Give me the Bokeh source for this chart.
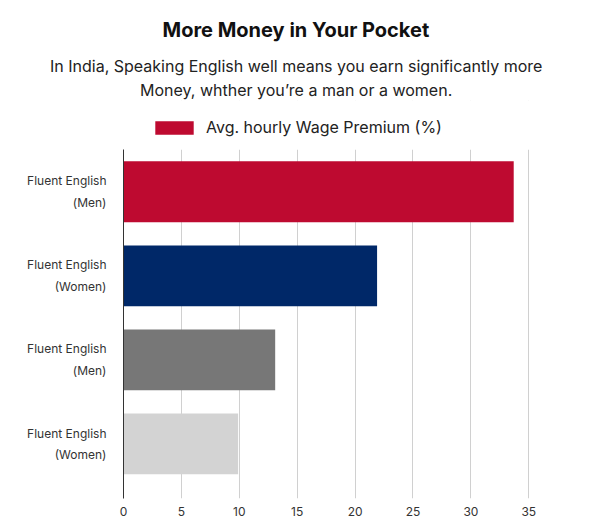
from bokeh.plotting import figure
from bokeh.models import (ColumnDataSource, Range1d, FixedTicker, Title, Legend,
                          LegendItem, BoxAnnotation)
from bokeh.embed import file_html
from bokeh.resources import INLINE

title_text = "More Money in Your Pocket"
subtitle_lines = ["In India, Speaking English well means you earn significantly more",
                  "Money, whther you\u2019re a man or a women."]
categories = ["Fluent English\n(Men)", "Fluent English\n(Women)",
              "Fluent English\n(Men)", "Fluent English\n(Women)"]
values = [33.7, 21.9, 13.1, 9.9]
colors = ["#BE0A30", "#002868", "#777777", "#D3D3D3"]
series_name = "Avg. hourly Wage Premium (%)"
x_ticks = [0, 5, 10, 15, 20, 25, 30, 35]

FONT = "Inter"
W, H = 590, 525
LEFT, TOP, BOTTOM, RIGHT = 123, 100, 27, 38
FRAME_H = H - TOP - BOTTOM
BAND = 84.0                             # pixels per category
Y_TOP = -((191.3 - TOP) / BAND)         # data value at the frame top

positions = list(range(len(categories)))
src = ColumnDataSource(dict(y=positions, value=values, color=colors))

p = figure(width=W, height=H, output_backend="svg", toolbar_location=None,
           x_range=Range1d(0, 37.05), y_range=Range1d(3.65, Y_TOP),
           min_border_left=LEFT, min_border_right=RIGHT, min_border_bottom=BOTTOM,
           min_border_top=TOP)
p.outline_line_color = None
p.background_fill_color = "white"

p.ygrid.visible = False
p.xgrid.ticker = FixedTicker(ticks=x_ticks)
p.xgrid.grid_line_color = "#D0D0D0"
p.xgrid.grid_line_width = 1

# white band above the chart body (legend area), hiding the grid there
p.add_layout(BoxAnnotation(bottom=-0.5, top=Y_TOP - 1, fill_color="white", fill_alpha=1,
                           line_color=None, level="underlay"))

r = p.hbar(y="y", left=0, right="value", height=0.725, fill_color="color",
           line_color=None, source=src)

p.xaxis.ticker = FixedTicker(ticks=x_ticks)
p.xaxis.axis_line_color = None
p.xaxis.major_tick_line_color = None
p.xaxis.minor_tick_line_color = None
p.xaxis.major_label_text_font = FONT
p.xaxis.major_label_text_font_size = "12px"
p.xaxis.major_label_text_color = "#333333"
p.xaxis.major_label_standoff = 2

p.yaxis.ticker = FixedTicker(ticks=positions)
p.yaxis.bounds = (-0.5, 3.65)
p.yaxis.major_label_overrides = {i: c for i, c in zip(positions, categories)}
p.yaxis.axis_line_color = "#333333"
p.yaxis.axis_line_width = 1
p.yaxis.major_tick_line_color = None
p.yaxis.minor_tick_line_color = None
p.yaxis.major_label_text_font = FONT
p.yaxis.major_label_text_font_size = "12px"
p.yaxis.major_label_text_color = "#333333"
p.yaxis.major_label_text_line_height = 1.45
p.yaxis.major_label_standoff = 11

# header: titles stack upward from the frame top; offsets are from the frame's left edge
p.add_layout(Title(text=subtitle_lines[1], align="left", offset=139.5 - LEFT, standoff=1,
                   text_font=FONT, text_font_size="16px", text_font_style="normal",
                   text_color="#222222"), "above")
p.add_layout(Title(text=subtitle_lines[0], align="left", offset=49.5 - LEFT, standoff=3,
                   text_font=FONT, text_font_size="16px", text_font_style="normal",
                   text_color="#222222"), "above")
p.add_layout(Title(text=title_text, align="left", offset=162 - LEFT, standoff=22,
                   text_font=FONT, text_font_size="20px", text_font_style="bold",
                   text_color="#111111"), "above")

legend = Legend(items=[LegendItem(label=series_name, renderers=[r], index=0)],
                orientation="horizontal", location=(150 - LEFT, FRAME_H - (137 - TOP)),
                glyph_width=48, glyph_height=17, label_text_font=FONT,
                label_text_font_size="16px", label_text_color="#222222",
                border_line_color=None, background_fill_alpha=0,
                padding=0, margin=0, label_standoff=8)
p.add_layout(legend)

open("out.html", "w").write(file_html(p, INLINE))
